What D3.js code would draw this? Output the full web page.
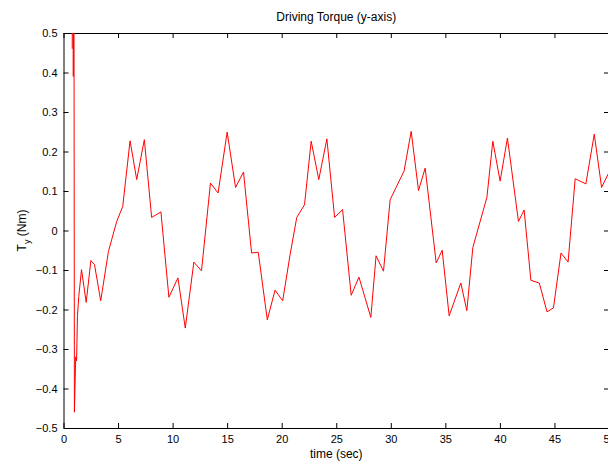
<!DOCTYPE html>
<html>
<head>
<meta charset="utf-8">
<script src="https://cdn.jsdelivr.net/npm/d3@7/dist/d3.min.js"></script>
<style>
  body { margin: 0; background: #fff; }
  svg { display: block; font-family: "Liberation Sans", Arial, sans-serif; }
  .tick text { font-size: 11px; fill: #000; }
  .domain, .tick line { stroke: #000; }
</style>
</head>
<body>
<div id="plot"></div>
<script>
// time samples (sec) and torque readings (Nm)
const timeSec = [0.80, 0.85, 0.90, 0.95, 1.00, 1.05, 1.12, 1.20, 1.28, 1.40, 1.65, 2.08,
  2.51, 2.84, 3.41, 4.12, 4.88, 5.43, 6.10, 6.71, 7.41, 8.08, 8.93, 9.66, 10.49,
  11.16, 11.95, 12.65, 13.47, 14.17, 15.00, 15.77, 16.50, 17.24, 17.85, 18.68,
  19.39, 20.09, 20.77, 21.38, 22.09, 22.70, 23.40, 24.14, 24.85, 25.58, 26.37,
  27.08, 28.17, 28.65, 29.33, 29.94, 31.22, 31.87, 32.54, 33.15, 34.16, 34.71,
  35.35, 36.42, 36.97, 37.52, 38.81, 39.35, 40.02, 40.69, 41.70, 42.22, 42.84,
  43.61, 44.32, 44.91, 45.60, 46.25, 46.90, 47.88, 48.65, 49.32, 50.05];
const torqueY = [0.46, 1.2, 0.39, 0.9, -0.46, -0.40, -0.32, -0.33, -0.217, -0.167, -0.099, -0.182,
  -0.076, -0.086, -0.178, -0.053, 0.023, 0.061, 0.227, 0.129, 0.23, 0.033, 0.047, -0.169, -0.12,
  -0.247, -0.08, -0.102, 0.12, 0.095, 0.249, 0.109, 0.148, -0.057, -0.055, -0.226,
  -0.151, -0.178, -0.061, 0.033, 0.065, 0.226, 0.129, 0.232, 0.033, 0.053, -0.164,
  -0.118, -0.22, -0.064, -0.103, 0.078, 0.151, 0.251, 0.101, 0.158, -0.082, -0.05,
  -0.216, -0.133, -0.203, -0.043, 0.084, 0.226, 0.125, 0.234, 0.023, 0.052, -0.126,
  -0.133, -0.206, -0.196, -0.057, -0.08, 0.131, 0.118, 0.244, 0.109, 0.15];

const xTicks = [0, 5, 10, 15, 20, 25, 30, 35, 40, 45, 50];
const yTicks = [-0.5, -0.4, -0.3, -0.2, -0.1, 0, 0.1, 0.2, 0.3, 0.4, 0.5];

const titleText = "Driving Torque (y-axis)";
const xLabelText = "time (sec)";

const svgWidth = 608;
const svgHeight = 461;
const margin = { top: 33, right: -1, bottom: 33, left: 63.5 };
const width = svgWidth - margin.left - margin.right;
const height = svgHeight - margin.top - margin.bottom;

const svg = d3.select("#plot")
  .append("svg")
  .attr("width", svgWidth)
  .attr("height", svgHeight);

const g = svg.append("g")
  .attr("transform", `translate(${margin.left}, ${margin.top})`);

const x = d3.scaleLinear().domain([0, 50]).range([0, width]);
const y = d3.scaleLinear().domain([-0.5, 0.5]).range([height, 0]);

// clip the line to the axes box
g.append("clipPath").attr("id", "box")
  .append("rect").attr("width", width).attr("height", height);

// axes, MATLAB style: ticks pointing inwards on all four sides
g.append("g")
  .attr("transform", `translate(0, ${height})`)
  .call(d3.axisBottom(x).tickValues(xTicks).tickFormat(d3.format("d"))
    .tickSizeInner(-5).tickSizeOuter(0).tickPadding(7));

g.append("g")
  .call(d3.axisTop(x).tickValues(xTicks).tickFormat("")
    .tickSizeInner(-5).tickSizeOuter(0));

g.append("g")
  .call(d3.axisLeft(y).tickValues(yTicks).tickFormat(d => d === 0 ? "0" : d3.format(".1f")(d))
    .tickSizeInner(-5).tickSizeOuter(0).tickPadding(6));

g.append("g")
  .attr("transform", `translate(${width}, 0)`)
  .call(d3.axisRight(y).tickValues(yTicks).tickFormat("")
    .tickSizeInner(-5).tickSizeOuter(0));

const line = d3.line()
  .x((d, i) => x(timeSec[i]))
  .y(d => y(d));

g.append("path")
  .datum(torqueY)
  .attr("clip-path", "url(#box)")
  .attr("fill", "none")
  .attr("stroke", "#ff0000")
  .attr("stroke-width", 1)
  .attr("d", line);

// title and labels
svg.append("text")
  .attr("x", margin.left + width / 2)
  .attr("y", 21)
  .attr("text-anchor", "middle")
  .style("font-size", "12px")
  .text(titleText);

svg.append("text")
  .attr("x", margin.left + width / 2)
  .attr("y", 458)
  .attr("text-anchor", "middle")
  .style("font-size", "12px")
  .text(xLabelText);

const yLabel = svg.append("text")
  .attr("transform", `translate(26, ${margin.top + height / 2}) rotate(-90)`)
  .attr("text-anchor", "middle")
  .style("font-size", "12px");
yLabel.append("tspan").text("T");
yLabel.append("tspan").attr("dy", 4).style("font-size", "9px").text("y");
yLabel.append("tspan").attr("dy", -4).text(" (Nm)");
</script>
</body>
</html>
